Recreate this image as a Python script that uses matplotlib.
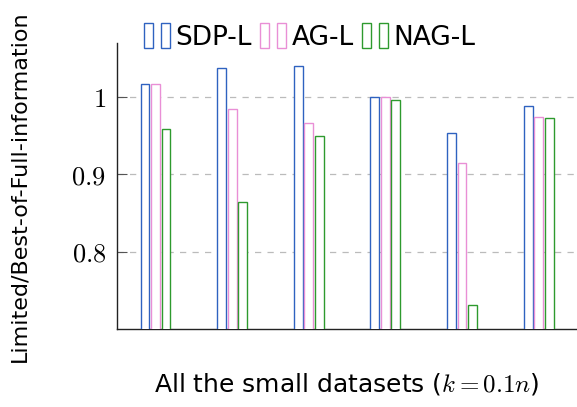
import matplotlib
matplotlib.use("Agg")
import matplotlib.pyplot as plt
import numpy as np
from matplotlib.patches import Rectangle
from matplotlib.legend_handler import HandlerTuple

# values
groups = np.arange(1, 7)
sdp_l = [1.017, 1.037, 1.040, 1.000, 0.954, 0.988]
ag_l = [1.017, 0.984, 0.966, 1.000, 0.915, 0.974]
nag_l = [0.958, 0.864, 0.950, 0.996, 0.731, 0.973]
series_names = ["SDP-L", "AG-L", "NAG-L"]
colors = ["#2f62c0", "#e98fd6", "#2e9a2e"]

plt.rcParams["mathtext.fontset"] = "cm"
plt.rcParams["font.family"] = ["DejaVu Sans"]

fig = plt.figure(figsize=(5.77, 4.07), dpi=100)
ax = fig.add_axes([0.203, 0.191, 0.797, 0.704])

width = 0.115
offset = 0.137
handles = []
for i, (vals, c) in enumerate(zip([sdp_l, ag_l, nag_l], colors)):
    ax.bar(groups + (i - 1) * offset, vals, width, bottom=0,
           facecolor="white", edgecolor=c, linewidth=1.0, zorder=3)
    h1 = Rectangle((0, 0), 1, 1, facecolor="white", edgecolor=c, linewidth=1.0)
    h2 = Rectangle((0, 0), 1, 1, facecolor="white", edgecolor=c, linewidth=1.0)
    handles.append((h1, h2))

ax.set_xlim(0.5, 6.5)
ax.set_ylim(0.7, 1.07)
ax.set_yticks([0.8, 0.9, 1.0])
ax.set_yticklabels(["$0.8$", "$0.9$", "$1$"], fontsize=19)
ax.set_xticks([])
ax.tick_params(axis="y", direction="in", length=7, width=0.8, color="#555555", pad=8)
ax.yaxis.grid(True, linestyle=(0, (5, 5)), color="#bbbbbb", linewidth=0.9, zorder=0)
ax.set_axisbelow(True)
for s in ["top", "right"]:
    ax.spines[s].set_visible(False)
for s in ["left", "bottom"]:
    ax.spines[s].set_linewidth(1.0)
    ax.spines[s].set_color("#222222")

ax.set_ylabel("Limited/Best-of-Full-information", fontsize=16, labelpad=30)
ax.set_xlabel("All the small datasets ($k = 0.1n$)", fontsize=18, labelpad=30)

leg = ax.legend(handles, series_names,
                handler_map={tuple: HandlerTuple(ndivide=None, pad=0.3)},
                loc="lower left", bbox_to_anchor=(0.035, 0.935), ncol=3,
                frameon=False, fontsize=19, handlelength=1.0, handleheight=1.1,
                handletextpad=0.2, columnspacing=0.3, borderaxespad=0)

fig.savefig("out.png", dpi=100)
